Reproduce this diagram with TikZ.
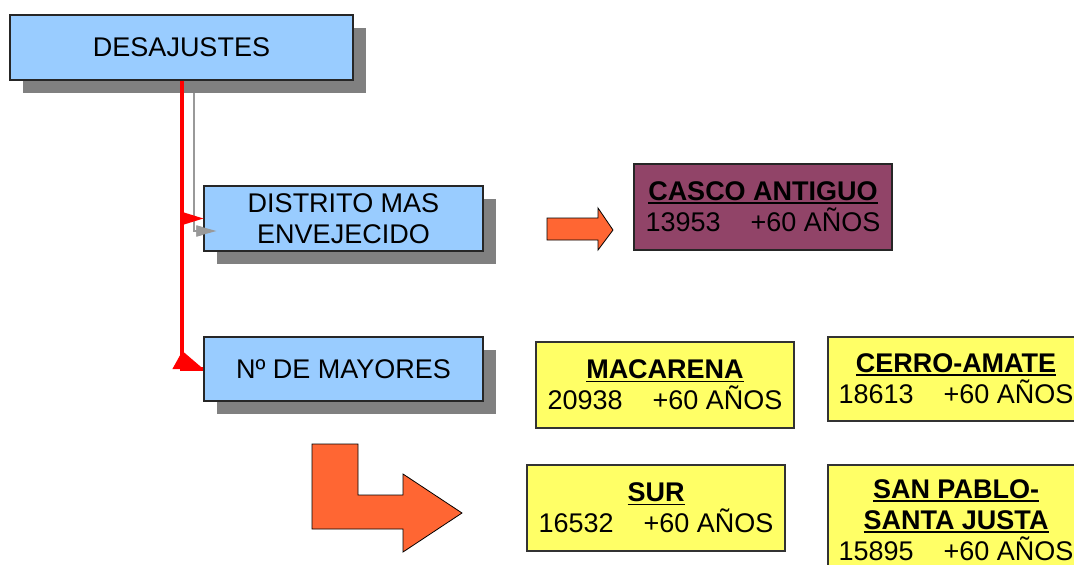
\documentclass[tikz,border=0pt]{standalone}
\usepackage{fontspec}
\setmainfont{Liberation Sans}
\usetikzlibrary{shadows,arrows.meta}
\definecolor{boxblue}{RGB}{153,204,255}
\definecolor{boxpurple}{RGB}{145,68,104}
\definecolor{boxyellow}{RGB}{255,255,102}
\definecolor{arroworange}{RGB}{255,102,51}
\definecolor{shadowgray}{RGB}{128,128,128}
\pgfdeclarelayer{bglayer}
\pgfsetlayers{bglayer,main}
\newlength\ulw
\newcommand\ulbf[1]{\settowidth\ulw{\textbf{#1}}\textbf{#1}\llap{\rule[-3.5pt]{\ulw}{1.8pt}}}
\newcommand\numgap{\hspace{30pt}}
\begin{document}
\begin{tikzpicture}[x=1pt,y=-1pt,
  txt/.style={font=\fontsize{27}{31}\selectfont, align=center, text=black, inner sep=0pt},
  bluebox/.style={txt, draw=black!85, line width=1.2pt, fill=boxblue,
    drop shadow={shadow xshift=13pt, shadow yshift=-13pt, fill=shadowgray, opacity=1}},
  purplebox/.style={txt, draw=black!85, line width=1.2pt, fill=boxpurple},
  yellowbox/.style={txt, draw=black!80, line width=1.2pt, fill=boxyellow},
  redline/.style={red, line width=4pt},
  grayline/.style={black!40, line width=1.5pt},
  bigarrow/.style={fill=arroworange, draw=black, line width=0.8pt, line join=miter}]
\useasboundingbox (0,0) rectangle (1074,565);

\node[bluebox, minimum width=343pt, minimum height=65pt] (des) at (181.5,47.5) {DESAJUSTES};
\node[bluebox, minimum width=279pt, minimum height=65pt] (dist) at (343.5,218.5) {DISTRITO MAS\\ENVEJECIDO};
\node[bluebox, minimum width=279pt, minimum height=64pt] (may) at (343.5,369) {Nº DE MAYORES};

% gray connector (behind the shadow)
\begin{pgfonlayer}{bglayer}
\fill[white] (0,0) rectangle (1074,565);
\draw[grayline, -{Triangle[length=20pt,width=11pt]}]
  ([xshift=12.5pt]des.south) |- ([xshift=13pt,yshift=-12.5pt]dist.west);
\end{pgfonlayer}
\fill[black!40] ([xshift=13pt,yshift=-12.5pt]dist.west) -- ++(-20,-5.5) -- ++(0,11) -- cycle;

% red connectors
\draw[redline, -{Triangle[length=21pt,width=13pt,line width=0pt]}]
  ([xshift=0.5pt]des.south) |- (dist.west);
\draw[redline] ([xshift=0.5pt]des.south) |- (may.west);
\fill[red] ([xshift=-31pt]may.west) -- ([xshift=-21pt,yshift=18pt]may.west) -- (may.west) -- cycle;

% result boxes
\node[purplebox, minimum width=258pt, minimum height=86pt] (casco) at (763,207)
  {\ulbf{CASCO ANTIGUO}\\13953\numgap+60 AÑOS};
\node[yellowbox, minimum width=258pt, minimum height=86pt] (mac) at (665,385)
  {\ulbf{MACARENA}\\20938\numgap+60 AÑOS};
\node[yellowbox, minimum width=256pt, minimum height=84pt] (cerro) at (956,379)
  {\ulbf{CERRO-AMATE}\\18613\numgap+60 AÑOS};
\node[yellowbox, minimum width=258pt, minimum height=86pt] (sur) at (656,508)
  {\ulbf{SUR}\\16532\numgap+60 AÑOS};
\node[yellowbox, minimum width=256pt, minimum height=110pt] (sanpablo) at (956,520)
  {\ulbf{SAN PABLO-}\\\ulbf{SANTA JUSTA}\\15895\numgap+60 AÑOS};

% big orange arrows
\draw[bigarrow] (547,218) -- (598,218) -- (598,208) -- (613,230) -- (598,250) -- (598,240) -- (547,240) -- cycle;
\draw[bigarrow] (312,444) -- (358,444) -- (358,495) -- (403,495) -- (403,474) -- (462,513)
  -- (403,552) -- (403,529) -- (312,529) -- cycle;
\end{tikzpicture}
\end{document}
